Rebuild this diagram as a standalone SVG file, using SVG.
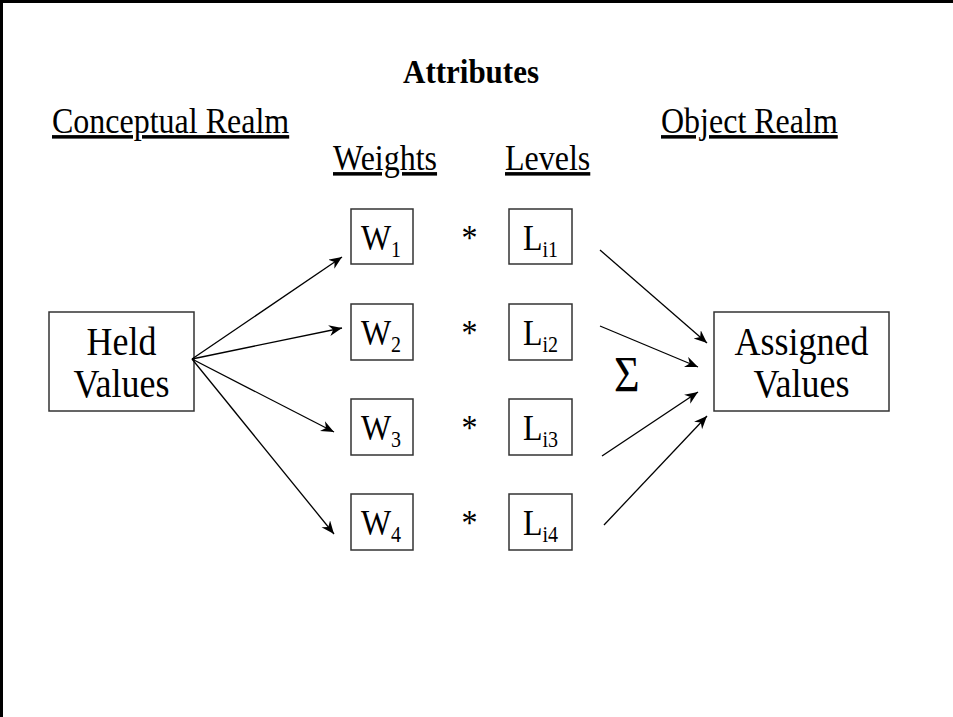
<svg xmlns="http://www.w3.org/2000/svg" width="953" height="717" viewBox="0 0 953 717">
<style>
text{font-family:"Liberation Serif","Times New Roman",serif;fill:#000}
.hdr{font-size:32px;text-decoration:underline}
.ttl{font-size:31px;font-weight:bold}
.big{font-size:36px}
.mid{font-size:32px}
.sub{font-size:20px}
.box{fill:#fff;stroke:#333;stroke-width:1.5}
.con{stroke:#000;stroke-width:1.3;fill:none;marker-end:url(#ah)}
</style>
<defs>
<marker id="ah" markerUnits="userSpaceOnUse" markerWidth="14" markerHeight="12" refX="13" refY="5.5" orient="auto">
<path d="M0,0 L13,5.5 L0,11 L4,5.5 z" fill="#000"/>
</marker>
</defs>
<rect width="953" height="717" fill="#fff"/>
<g id="frame">
<line x1="0" y1="1.5" x2="953" y2="1.5" stroke="#000" stroke-width="3"/>
<line x1="1.5" y1="0" x2="1.5" y2="717" stroke="#000" stroke-width="3"/>
</g>
<g id="labels">
<text class="ttl" transform="translate(471 83) scale(1 1.08)" text-anchor="middle">Attributes</text>
<text class="hdr" transform="translate(52 133) scale(1 1.1)">Conceptual Realm</text>
<text class="hdr" transform="translate(661 133) scale(1 1.1)">Object Realm</text>
<text class="hdr" transform="translate(333 170) scale(1 1.1)">Weights</text>
<text class="hdr" transform="translate(505 170) scale(1 1.1)">Levels</text>
<text class="mid" transform="translate(469.5 249.5) scale(1 1.12)" text-anchor="middle">*</text>
<text class="mid" transform="translate(469.5 344.5) scale(1 1.12)" text-anchor="middle">*</text>
<text class="mid" transform="translate(469.5 439.5) scale(1 1.12)" text-anchor="middle">*</text>
<text class="mid" transform="translate(469.5 534.5) scale(1 1.12)" text-anchor="middle">*</text>
<text transform="translate(614 391) scale(1 1.15)" style="font-size:44px">Σ</text>
</g>
<g id="held">
<rect class="box" x="49" y="312" width="145" height="99"/>
<text class="big" transform="translate(121.5 355) scale(1 1.12)" text-anchor="middle">Held</text>
<text class="big" transform="translate(121.5 397) scale(1 1.12)" text-anchor="middle">Values</text>
</g>
<g id="assigned">
<rect class="box" x="714" y="312" width="175" height="99"/>
<text class="big" transform="translate(801.5 355) scale(1 1.12)" text-anchor="middle">Assigned</text>
<text class="big" transform="translate(801.5 397) scale(1 1.12)" text-anchor="middle">Values</text>
</g>
<g id="w1"><rect class="box" x="351" y="209" width="62" height="55"/><text class="mid" transform="translate(381 250) scale(1 1.15)" text-anchor="middle">W<tspan class="sub" dy="6">1</tspan></text></g>
<g id="w2"><rect class="box" x="351" y="304" width="62" height="56"/><text class="mid" transform="translate(381 345) scale(1 1.15)" text-anchor="middle">W<tspan class="sub" dy="6">2</tspan></text></g>
<g id="w3"><rect class="box" x="351" y="399" width="62" height="56"/><text class="mid" transform="translate(381 440) scale(1 1.15)" text-anchor="middle">W<tspan class="sub" dy="6">3</tspan></text></g>
<g id="w4"><rect class="box" x="351" y="494" width="62" height="56"/><text class="mid" transform="translate(381 535) scale(1 1.15)" text-anchor="middle">W<tspan class="sub" dy="6">4</tspan></text></g>
<g id="l1"><rect class="box" x="509" y="209" width="63" height="55"/><text class="mid" transform="translate(540.5 250) scale(1 1.15)" text-anchor="middle">L<tspan class="sub" dy="6">i1</tspan></text></g>
<g id="l2"><rect class="box" x="509" y="304" width="63" height="56"/><text class="mid" transform="translate(540.5 345) scale(1 1.15)" text-anchor="middle">L<tspan class="sub" dy="6">i2</tspan></text></g>
<g id="l3"><rect class="box" x="509" y="399" width="63" height="56"/><text class="mid" transform="translate(540.5 440) scale(1 1.15)" text-anchor="middle">L<tspan class="sub" dy="6">i3</tspan></text></g>
<g id="l4"><rect class="box" x="509" y="494" width="63" height="56"/><text class="mid" transform="translate(540.5 535) scale(1 1.15)" text-anchor="middle">L<tspan class="sub" dy="6">i4</tspan></text></g>
<g id="connectors">
<line class="con" x1="192" y1="359" x2="342" y2="257"/>
<line class="con" x1="192" y1="359" x2="342" y2="328"/>
<line class="con" x1="192" y1="359" x2="334" y2="432"/>
<line class="con" x1="192" y1="359" x2="334" y2="534"/>
<line class="con" x1="600" y1="250" x2="707" y2="343"/>
<line class="con" x1="600" y1="326" x2="698" y2="367"/>
<line class="con" x1="602" y1="456" x2="698" y2="392"/>
<line class="con" x1="604" y1="525" x2="707" y2="416"/>
</g>
</svg>
